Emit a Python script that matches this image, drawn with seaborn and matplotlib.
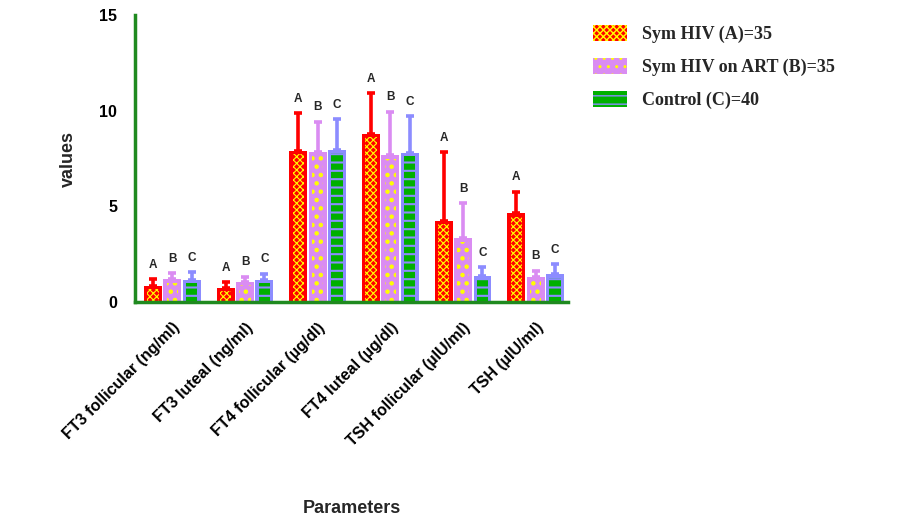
import numpy as np
import pandas as pd
import matplotlib
matplotlib.use("Agg")
import matplotlib.pyplot as plt
import seaborn as sns
from matplotlib.patches import Rectangle, Patch

# data
params = ["FT3 follicular (ng/ml)", "FT3 luteal (ng/ml)", "FT4 follicular (µg/dl)",
          "FT4 luteal (µg/dl)", "TSH follicular (µIU/ml)", "TSH (µIU/ml)"]
groups = ["Sym HIV (A)=35", "Sym HIV on ART (B)=35", "Control (C)=40"]
letters = ["A", "B", "C"]

mean_a = [0.84, 0.75, 7.9, 8.8, 4.25, 4.63]
mean_b = [1.19, 1.05, 7.86, 7.68, 3.33, 1.32]
mean_c = [1.15, 1.15, 7.95, 7.8, 1.38, 1.46]

sd_a = [0.35, 0.3, 1.96, 2.1, 3.57, 1.14]
sd_b = [0.31, 0.27, 1.57, 2.27, 1.83, 0.32]
sd_c = [0.42, 0.33, 1.6, 1.92, 0.43, 0.53]

colors = ["#ff0000", "#da8cf2", "#8c8cff"]
pattern_col = ["#ffff00", "#ffff00", "#00b000"]
green = "#1f8a1f"

df = pd.DataFrame({
    "param": params * 3,
    "group": np.repeat(groups, len(params)),
    "value": mean_a + mean_b + mean_c,
})
sds = [sd_a, sd_b, sd_c]

sns.set_style("white")
plt.rcParams["font.family"] = ["Liberation Sans", "DejaVu Sans"]

hatches = ["xxxxx", "..", "--"]
hatch_lw = [0.8, 2.0, 1.5]


def patterned(xy, w, h, gi, **kw):
    # inner rectangle carrying the fill pattern
    face = colors[gi] if gi < 2 else pattern_col[gi]
    hcol = pattern_col[gi] if gi < 2 else colors[gi]
    with plt.rc_context({"hatch.linewidth": hatch_lw[gi]}):
        p = Rectangle(xy, w, h, facecolor=face, edgecolor=hcol, hatch=hatches[gi],
                      linewidth=0, **kw)
    if hasattr(p, "set_hatch_linewidth"):
        p.set_hatch_linewidth(hatch_lw[gi])
    return p


fig = plt.figure(figsize=(9.08, 5.18), dpi=100)
ax = fig.add_axes([0.149, 0.417, 0.477, 0.554])

sns.barplot(data=df, x="param", y="value", hue="group", order=params, hue_order=groups,
            palette=colors, width=0.8, gap=0.08, errorbar=None, legend=False,
            saturation=1, ax=ax)

bar_sets = list(ax.containers)
for gi, cont in enumerate(bar_sets):
    for pi, bar in enumerate(cont.patches):
        bar.set_linewidth(0)
        x0, w, h = bar.get_x(), bar.get_width(), bar.get_height()
        dx, dy = 0.045, 0.18
        ax.add_patch(patterned((x0 + dx, 0), w - 2 * dx, max(h - dy, 0), gi,
                               zorder=bar.get_zorder() + 0.1))
        xc = x0 + w / 2
        top = h + sds[gi][pi]
        ax.errorbar(xc, h, yerr=[[0], [sds[gi][pi]]], fmt="none", ecolor=colors[gi],
                    elinewidth=2.6, capsize=3, capthick=2.6, zorder=0.5)
        ax.annotate(letters[gi], (xc, top), xytext=(0, 6), textcoords="offset points",
                    ha="center", va="bottom", fontsize=8.5, fontweight="bold")

ax.set_ylim(0, 15)
ax.set_xlim(-0.51, 5.45)
ax.set_yticks([0, 5, 10, 15])
sns.despine(ax=ax)
for side in ["left", "bottom"]:
    ax.spines[side].set_color(green)
    ax.spines[side].set_linewidth(2.5)
ax.tick_params(axis="both", colors=green, width=2.2, length=7, direction="out",
               labelcolor="black", labelsize=11.5, pad=6)
for lab in ax.get_yticklabels():
    lab.set_fontweight("bold")
ax.set_xticks(range(len(params)))
ax.set_xticklabels(params, rotation=45, ha="right", rotation_mode="anchor",
                   fontsize=11.5, fontweight="bold")
ax.set_ylabel("values", fontsize=13, fontweight="bold", labelpad=16)
ax.set_xlabel("Parameters", fontsize=13, fontweight="bold", labelpad=37)

handles = [patterned((0, 0), 1, 1, i) for i in range(3)]
handles = [Patch(facecolor=h.get_facecolor(), edgecolor=h.get_edgecolor(),
                 hatch=h.get_hatch(), linewidth=0) for h in handles]
fig.legend(handles, groups, loc="upper left", bbox_to_anchor=(0.635, 0.983),
           frameon=False, handlelength=1.9, handleheight=1.0, labelspacing=0.8,
           handletextpad=0.8,
           prop={"family": ["Liberation Serif", "DejaVu Serif"], "weight": "bold", "size": 13})

fig.savefig("out.png", dpi=100)
